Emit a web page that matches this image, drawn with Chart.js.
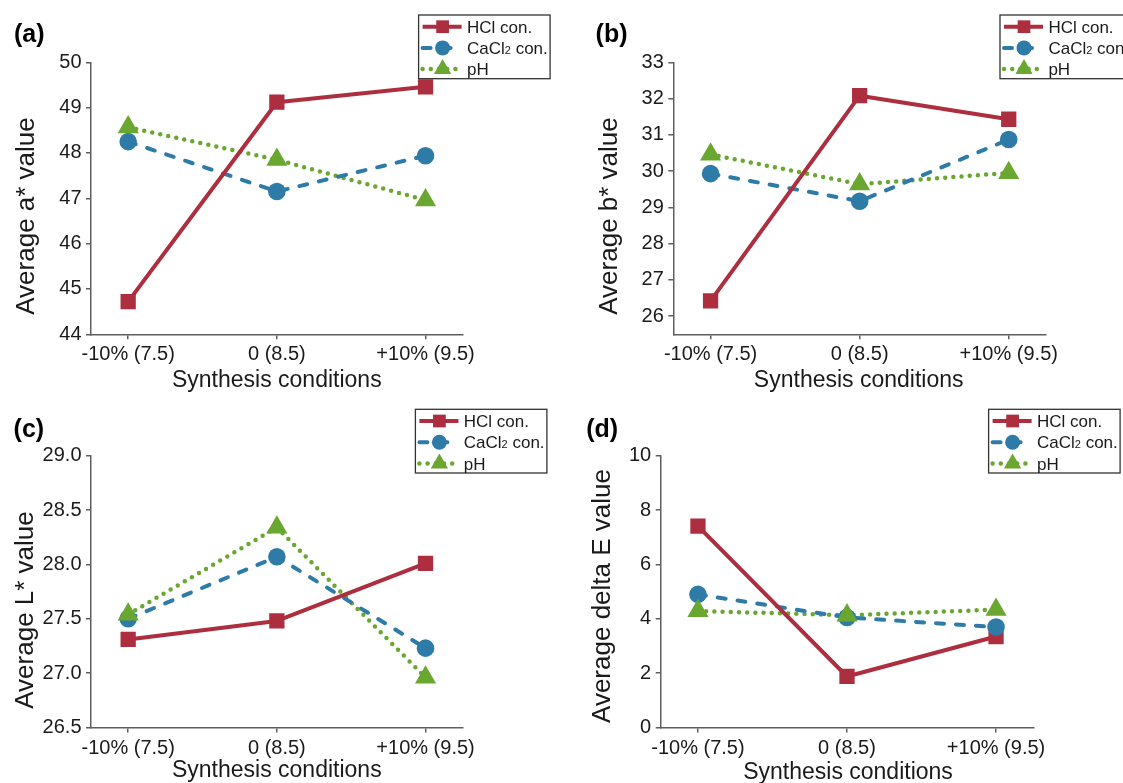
<!DOCTYPE html>
<html>
<head>
<meta charset="utf-8">
<title>Synthesis conditions</title>
<script src="https://cdn.jsdelivr.net/npm/chart.js@4.4.1/dist/chart.umd.min.js"></script>
<style>
  html, body { margin: 0; padding: 0; background: #fff; }
  body { width: 1123px; height: 783px; position: relative; overflow: hidden; }
  canvas { position: absolute; left: 0; top: 0; }
</style>
</head>
<body>
<canvas id="chart-a" width="1123" height="783"></canvas>
<canvas id="chart-b" width="1123" height="783"></canvas>
<canvas id="chart-c" width="1123" height="783"></canvas>
<canvas id="chart-d" width="1123" height="783"></canvas>
<script>
// Data
const categories = ["-10% (7.5)", "0 (8.5)", "+10% (9.5)"];
const seriesNames = ["HCl con.", "CaCl2 con.", "pH"];
const xTitle = "Synthesis conditions";

const aHcl = [44.72, 49.12, 49.46];
const aCacl2 = [48.25, 47.15, 47.94];
const aPh = [48.57, 47.85, 46.96];

const bHcl = [26.42, 32.08, 31.43];
const bCacl2 = [29.93, 29.17, 30.87];
const bPh = [30.46, 29.64, 29.95];

const cHcl = [27.31, 27.48, 28.01];
const cCacl2 = [27.5, 28.07, 27.23];
const cPh = [27.54, 28.34, 26.96];

const dHcl = [7.41, 1.88, 3.35];
const dCacl2 = [4.9, 4.05, 3.7];
const dPh = [4.29, 4.13, 4.34];

const yTicksA = [44, 45, 46, 47, 48, 49, 50];
const yTicksB = [26, 27, 28, 29, 30, 31, 32, 33];
const yTicksC = [26.5, 27.0, 27.5, 28.0, 28.5, 29.0];
const yTicksD = [0, 2, 4, 6, 8, 10];

// Styles
const FONT = "'Liberation Sans', Arial, Helvetica, sans-serif";
const TEXT_COLOR = "#1a1a1a";
const AXIS_COLOR = "#5e5e5e";

const seriesStyles = [
  { color: "#ad2e3f", pointStyle: "rect", radius: 10.8, legendRadius: 9, width: 4, dash: [], cap: "butt" },
  { color: "#2f7ba8", pointStyle: "circle", radius: 8.8, legendRadius: 7.5, width: 4, dash: [8, 12], cap: "round" },
  { color: "#6aa730", pointStyle: "triangle", radius: 12.2, legendRadius: 10, width: 4.5, dash: [0, 8.2], cap: "round" },
];

const panels = [
  {
    id: "chart-a", letter: "(a)", yTitle: "Average a* value",
    series: [aHcl, aCacl2, aPh], yTicks: yTicksA, yMin: 44, yMax: 50, decimals: 0,
    area: { left: 91, right: 462.7, top: 62.3, bottom: 334.3 },
    letterPos: [14, 41.5], yTitlePos: [34, 216], xTitlePos: [276.8, 387], legendPos: [418.6, 15],
  },
  {
    id: "chart-b", letter: "(b)", yTitle: "Average b* value",
    series: [bHcl, bCacl2, bPh], yTicks: yTicksB, yMin: 25.5, yMax: 33, decimals: 0,
    area: { left: 673.3, right: 1046, top: 62.3, bottom: 334.3 },
    letterPos: [595.6, 41.5], yTitlePos: [616.5, 216], xTitlePos: [858.7, 386.5], legendPos: [1000, 15],
  },
  {
    id: "chart-c", letter: "(c)", yTitle: "Average L* value",
    series: [cHcl, cCacl2, cPh], yTicks: yTicksC, yMin: 26.5, yMax: 29, decimals: 1,
    area: { left: 91, right: 462.7, top: 455.7, bottom: 727.5 },
    letterPos: [13.6, 436.5], yTitlePos: [32.5, 610], xTitlePos: [276.8, 777], legendPos: [415.4, 409.3],
  },
  {
    id: "chart-d", letter: "(d)", yTitle: "Average delta E value",
    series: [dHcl, dCacl2, dPh], yTicks: yTicksD, yMin: 0, yMax: 10, decimals: 0,
    area: { left: 660.7, right: 1033.3, top: 455.7, bottom: 727.6 },
    letterPos: [586.2, 436.5], yTitlePos: [609.5, 596], xTitlePos: [848, 779], legendPos: [988.6, 409.3],
  },
];

// Legend box drawn by hand (line sample + marker + text)
function drawLegend(ctx, x, y) {
  ctx.fillStyle = "#fff";
  ctx.fillRect(x, y, 131.5, 63.7);
  ctx.strokeStyle = "#333";
  ctx.lineWidth = 1.3;
  ctx.strokeRect(x, y, 131.5, 63.7);

  seriesNames.forEach((name, k) => {
    const s = seriesStyles[k];
    const cy = y + 11.7 + k * 21.2;

    ctx.save();
    ctx.strokeStyle = s.color;
    ctx.lineWidth = s.width;
    ctx.lineCap = s.cap;
    ctx.setLineDash(s.dash);
    ctx.beginPath();
    ctx.moveTo(x + 4, cy);
    ctx.lineTo(x + 43, cy);
    ctx.stroke();
    ctx.restore();

    ctx.fillStyle = s.color;
    Chart.helpers.drawPoint(ctx, { pointStyle: s.pointStyle, radius: s.legendRadius, rotation: 0, borderWidth: 0 }, x + 24, cy);

    // digits are drawn small (CaCl2)
    ctx.fillStyle = TEXT_COLOR;
    ctx.textAlign = "left";
    ctx.textBaseline = "alphabetic";
    let tx = x + 48.4;
    for (const ch of name) {
      ctx.font = /[0-9]/.test(ch) ? `11px ${FONT}` : `17px ${FONT}`;
      ctx.fillText(ch, tx, cy + 6.2);
      tx += ctx.measureText(ch).width;
    }
  });
}

// Panel letter, axis titles and legend
const panelDecor = {
  id: "panelDecor",
  afterDraw(chart, args, opts) {
    const ctx = chart.ctx;
    ctx.save();
    ctx.fillStyle = "#000";
    ctx.textBaseline = "alphabetic";

    ctx.font = `bold 25px ${FONT}`;
    ctx.textAlign = "left";
    ctx.fillText(opts.letter, opts.letterPos[0], opts.letterPos[1]);

    ctx.fillStyle = TEXT_COLOR;
    ctx.font = `23px ${FONT}`;
    ctx.textAlign = "center";
    ctx.fillText(xTitle, opts.xTitlePos[0], opts.xTitlePos[1]);

    ctx.save();
    ctx.translate(opts.yTitlePos[0], opts.yTitlePos[1]);
    ctx.rotate(-Math.PI / 2);
    ctx.font = `26px ${FONT}`;
    ctx.textAlign = "center";
    ctx.fillText(opts.yTitle, 0, 0);
    ctx.restore();

    drawLegend(ctx, opts.legendPos[0], opts.legendPos[1]);
    ctx.restore();
  },
};

// Lines first (under), markers after (on top)
function buildDatasets(seriesValues) {
  const toPoints = (vals) => vals.map((v, i) => ({ x: i, y: v }));
  const lines = seriesValues.map((vals, k) => ({
    label: seriesNames[k],
    data: toPoints(vals),
    borderColor: seriesStyles[k].color,
    borderWidth: seriesStyles[k].width,
    borderDash: seriesStyles[k].dash,
    borderCapStyle: seriesStyles[k].cap,
    borderJoinStyle: "round",
    pointRadius: 0,
    fill: false,
    tension: 0,
    order: 3 + k,
  }));
  const marks = seriesValues.map((vals, k) => ({
    label: seriesNames[k],
    data: toPoints(vals),
    showLine: false,
    pointStyle: seriesStyles[k].pointStyle,
    pointRadius: seriesStyles[k].radius,
    pointBackgroundColor: seriesStyles[k].color,
    pointBorderWidth: 0,
    order: 2 - k,
  }));
  return lines.concat(marks);
}

function makeChart(p) {
  const ctx = document.getElementById(p.id).getContext("2d");
  const W = 1123, H = 783, Y_SCALE_W = 64, X_SCALE_H = 40;

  return new Chart(ctx, {
    type: "line",
    data: { datasets: buildDatasets(p.series) },
    options: {
      responsive: false,
      animation: false,
      events: [],
      layout: {
        padding: {
          left: p.area.left - Y_SCALE_W,
          top: p.area.top,
          right: W - p.area.right,
          bottom: H - p.area.bottom - X_SCALE_H,
        },
      },
      scales: {
        x: {
          type: "linear",
          min: -0.25,
          max: 2.25,
          afterBuildTicks: (scale) => {
            scale.ticks = categories.map((c, i) => ({ value: i }));
          },
          afterFit: (scale) => {
            scale.height = X_SCALE_H;
          },
          ticks: {
            callback: (v) => categories[Math.round(v)],
            color: TEXT_COLOR,
            font: { family: FONT, size: 20 },
            padding: 3.5,
            maxRotation: 0,
            autoSkip: false,
          },
          grid: { drawOnChartArea: false, tickLength: 5, color: AXIS_COLOR, lineWidth: 1.5 },
          border: { color: AXIS_COLOR, width: 1.5 },
        },
        y: {
          min: p.yMin,
          max: p.yMax,
          afterBuildTicks: (scale) => {
            scale.ticks = p.yTicks.map((v) => ({ value: v }));
          },
          afterFit: (scale) => {
            scale.width = Y_SCALE_W;
          },
          ticks: {
            callback: (v) => Number(v).toFixed(p.decimals),
            color: TEXT_COLOR,
            font: { family: FONT, size: 20 },
            padding: 4.5,
          },
          grid: { drawOnChartArea: false, tickLength: 5, color: AXIS_COLOR, lineWidth: 1.5 },
          border: { color: AXIS_COLOR, width: 1.5 },
        },
      },
      plugins: {
        legend: { display: false },
        tooltip: { enabled: false },
        panelDecor: p,
      },
    },
    plugins: [panelDecor],
  });
}

panels.forEach(makeChart);
</script>
</body>
</html>
